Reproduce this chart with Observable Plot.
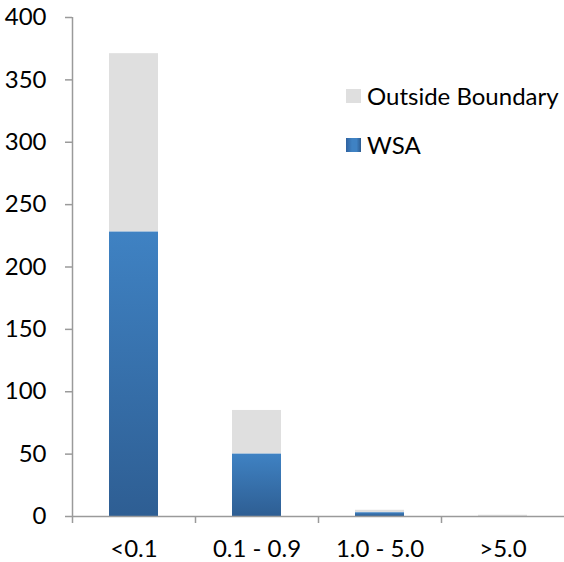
<!DOCTYPE html>
<html><head><meta charset="utf-8">
<script src="https://cdn.jsdelivr.net/npm/d3@7"></script>
<script src="https://cdn.jsdelivr.net/npm/@observablehq/plot@0.6"></script>
<style>
body{margin:0;background:#fff;}
#wrap{position:relative;width:564px;height:562px;font-family:Lato,sans-serif;}
#wrap svg{display:block;}
.legend{position:absolute;left:346px;top:83px;font-size:24px;color:#000;line-height:1;}
.row{display:flex;align-items:center;height:26px;margin-bottom:23px;}
.sw{width:15px;height:14px;margin-right:6px;flex:none;}
</style></head><body><div id="wrap"></div>
<script>
const categories = ["<0.1", "0.1 - 0.9", "1.0 - 5.0", ">5.0"];
const wsaValues = [228, 50, 3, 0];
const outsideValues = [143, 35, 2, 1];
const legendLabels = ["Outside Boundary", "WSA"];
const yTicks = [0, 50, 100, 150, 200, 250, 300, 350, 400];

const greyFill = "#dfdfdf";
const data = categories.map((c, i) => ({cat: c, wsa: wsaValues[i], outside: outsideValues[i]}));

const W = 564, H = 562, mL = 72, mR = 0;
const half = (W - mL - mR) / categories.length / 2;
const axisColor = "#9a9a9a";

const plot = Plot.plot({
  width: W, height: H,
  marginLeft: mL, marginRight: mR, marginTop: 17, marginBottom: 46,
  style: {fontFamily: "Lato, sans-serif", fontSize: "24px", background: "white", color: "black"},
  x: {type: "band", domain: categories, padding: 0, label: null},
  y: {domain: [0, 400], label: null},
  marks: [
    Plot.barY(data, {x: "cat", y1: d => d.wsa, y2: d => d.wsa + d.outside, fill: greyFill, insetLeft: 37, insetRight: 37}),
    Plot.barY(data, {x: "cat", y1: d => 0, y2: d => d.wsa, fill: "url(#wsaGrad)", insetLeft: 37, insetRight: 37}),
    Plot.ruleY([0], {stroke: axisColor, strokeWidth: 1.5}),
    Plot.ruleX([categories[0]], {x: d => d, y1: 0, y2: 400, dx: -half, stroke: axisColor, strokeWidth: 1.5}),
    Plot.ruleX(categories, {x: d => d, y1: 0, y2: 0, insetBottom: -7, dx: -half, stroke: axisColor, strokeWidth: 1.5}),
    Plot.axisY({ticks: yTicks, tickSize: 7, tickPadding: 19, stroke: axisColor, strokeWidth: 1.5, fill: "black", fontSize: 24, label: null}),
    Plot.axisX({tickSize: 0, tickPadding: 23, fill: "black", fontSize: 24, label: null})
  ]
});

d3.select(plot).insert("defs", ":first-child").html(
  `<linearGradient id="wsaGrad" x1="0" y1="0" x2="0" y2="1">
     <stop offset="0" stop-color="#3f82c3"/>
     <stop offset="1" stop-color="#2e5e93"/>
   </linearGradient>`);

const wrap = document.getElementById("wrap");
wrap.appendChild(plot);

const legendColors = [greyFill, "linear-gradient(to right, #2f62a0, #3f82c3 40%, #3f82c3 70%, #2c5b90)"];
const lg = document.createElement("div");
lg.className = "legend";
legendLabels.forEach((t, i) => {
  const row = document.createElement("div");
  row.className = "row";
  const sw = document.createElement("span");
  sw.className = "sw";
  sw.style.background = legendColors[i];
  const tx = document.createElement("span");
  tx.textContent = t;
  row.appendChild(sw); row.appendChild(tx);
  lg.appendChild(row);
});
wrap.appendChild(lg);
</script></body></html>
